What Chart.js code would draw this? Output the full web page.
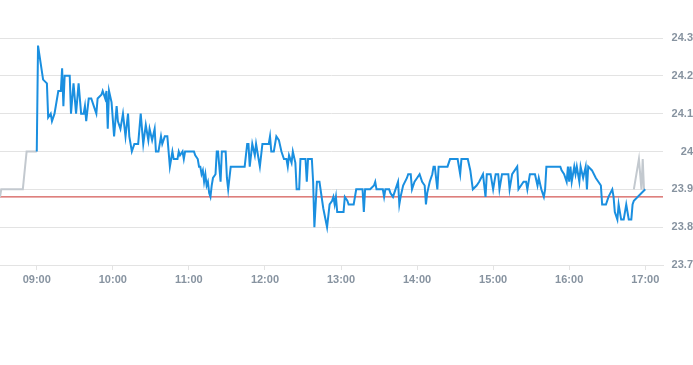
<!DOCTYPE html>
<html>
<head>
<meta charset="utf-8">
<script src="https://cdn.jsdelivr.net/npm/chart.js@4/dist/chart.umd.min.js"></script>
<style>
  body { margin: 0; background: #fff; }
  #wrap { width: 693px; height: 365px; position: relative; }
</style>
</head>
<body>
<div id="wrap"><canvas id="priceChart"></canvas></div>
<script>
// intraday prices, one line per hour
var blueTimes = [
  '09:00','09:01','09:05','09:08','09:09','09:11','09:12','09:14','09:17','09:19','09:20','09:21','09:22','09:26','09:27','09:29','09:31','09:33','09:35','09:37','09:38','09:39','09:41','09:43','09:45','09:47','09:48','09:51','09:52','09:54','09:55','09:56','09:57','09:59',
  '10:01','10:03','10:04','10:06','10:08','10:10','10:12','10:13','10:15','10:17','10:20','10:22','10:24','10:26','10:28','10:29','10:31','10:33','10:34','10:36','10:37','10:38','10:39','10:41','10:43','10:44','10:45','10:47','10:48','10:51','10:52','10:53','10:55','10:56','10:57',
  '11:04','11:05','11:07','11:08','11:09','11:10','11:11','11:12','11:13','11:14','11:15','11:16','11:17','11:18','11:19','11:21','11:22','11:23','11:24','11:25','11:26','11:29','11:30','11:31','11:33','11:44','11:46','11:47','11:48','11:50','11:52','11:53','11:54','11:56','11:58',
  '12:03','12:04','12:05','12:07','12:09','12:11','12:13','12:15','12:17','12:18','12:19','12:21','12:22','12:24','12:25','12:27','12:28','12:32','12:33','12:34','12:37','12:38','12:39','12:41','12:43','12:46','12:49','12:51','12:53','12:54','12:55','12:56','12:57',
  '13:02','13:03','13:05','13:06','13:10','13:12','13:17','13:18','13:19','13:23','13:26','13:27','13:28','13:33','13:34','13:35','13:38','13:39','13:41','13:43','13:45','13:46','13:47','13:49','13:52','13:53','13:55','13:56','13:58',
  '14:00','14:02','14:04','14:06','14:07','14:08','14:10','14:12','14:13','14:14','14:16','14:17','14:24','14:26','14:32','14:34','14:35','14:40','14:42','14:44','14:47','14:49','14:52','14:54','14:55','14:58',
  '15:00','15:02','15:04','15:05','15:07','15:12','15:13','15:15','15:19','15:20','15:22','15:24','15:26','15:27','15:29','15:33','15:35','15:36','15:38','15:40','15:41','15:42','15:53','15:54','15:56','15:58','15:59',
  '16:00','16:01','16:02','16:04','16:05','16:06','16:08','16:09','16:11','16:13','16:14','16:15','16:18','16:21','16:23','16:25','16:26','16:29','16:31','16:34','16:35','16:36','16:38','16:39','16:41','16:43','16:45','16:46','16:47','16:49','16:50','16:51',
  '17:00'
];
var bluePrices = [
  24.00,24.28,24.19,24.18,24.09,24.10,24.08,24.10,24.16,24.16,24.22,24.12,24.20,24.20,24.10,24.18,24.10,24.18,24.10,24.10,24.12,24.08,24.14,24.14,24.12,24.10,24.14,24.15,24.16,24.14,24.16,24.06,24.16,24.13,
  24.04,24.12,24.08,24.06,24.10,24.04,24.10,24.04,24.00,24.02,24.02,24.10,24.02,24.07,24.03,24.06,24.03,24.06,24.00,24.00,24.02,24.04,24.02,24.04,24.04,24.00,23.96,24.00,23.98,23.98,24.00,23.99,24.00,23.98,24.00,
  24.00,23.99,23.98,23.96,23.96,23.94,23.95,23.92,23.94,23.91,23.92,23.89,23.88,23.91,23.93,23.94,24.00,24.00,23.96,23.92,24.00,24.00,23.93,23.90,23.96,23.96,24.02,24.02,23.96,24.02,23.99,24.02,24.00,23.96,24.02,
  24.02,24.04,24.00,24.00,24.04,24.03,24.00,23.98,23.98,23.96,23.99,23.97,24.00,23.97,23.90,23.90,23.98,23.98,23.92,23.98,23.98,23.92,23.80,23.92,23.92,23.85,23.80,23.86,23.87,23.88,23.86,23.88,23.84,
  23.84,23.88,23.87,23.86,23.86,23.90,23.90,23.84,23.90,23.90,23.91,23.92,23.90,23.90,23.88,23.90,23.90,23.89,23.88,23.90,23.92,23.86,23.88,23.91,23.93,23.94,23.94,23.90,23.92,
  23.93,23.94,23.92,23.91,23.86,23.89,23.92,23.94,23.96,23.96,23.90,23.96,23.96,23.98,23.98,23.94,23.98,23.98,23.95,23.90,23.91,23.92,23.94,23.88,23.94,23.94,
  23.90,23.94,23.94,23.90,23.94,23.94,23.90,23.94,23.96,23.90,23.91,23.92,23.92,23.90,23.94,23.94,23.91,23.93,23.90,23.88,23.90,23.96,23.96,23.95,23.94,23.92,23.96,
  23.92,23.96,23.92,23.96,23.94,23.96,23.92,23.96,23.93,23.96,23.90,23.96,23.95,23.93,23.92,23.91,23.86,23.86,23.88,23.90,23.88,23.84,23.82,23.86,23.82,23.82,23.86,23.84,23.82,23.82,23.86,23.87,
  23.90
];
// pre-open and closing auction (grey); null splits the two pieces
var greyTimes = ['08:31','08:32','08:49','08:52','09:00','12:00','16:51','16:55','16:57','16:58','16:59'];
var greyPrices = [23.88, 23.90, 23.90, 24.00, 24.00, null, 23.90, 23.98, 23.90, 23.98, 23.90];
var prevClose = 23.88;
var hourTicks = ['09:00','10:00','11:00','12:00','13:00','14:00','15:00','16:00','17:00'];

function toMin(t) {
    var p = t.split(':');
    return parseInt(p[0], 10) * 60 + parseInt(p[1], 10);
}
function fmtMin(m) {
    var h = Math.floor(m / 60), mm = m % 60;
    return (h < 10 ? '0' : '') + h + ':' + (mm < 10 ? '0' : '') + mm;
}

var xMin = 511, xMax = 1034;
var blueData = blueTimes.map(function (t, i) { return { x: toMin(t), y: bluePrices[i] }; });
var greyData = greyTimes.map(function (t, i) { return { x: toMin(t), y: greyPrices[i] }; });
var refData = [{ x: xMin, y: prevClose }, { x: xMax, y: prevClose }];

var labelColor = '#8793a0';
var gridColor = '#e3e3e3';

new Chart(document.getElementById('priceChart'), {
    type: 'line',
    data: {
        datasets: [
            { data: blueData, borderColor: '#1a8fe0', borderWidth: 2, pointRadius: 0, tension: 0 },
            { data: greyData, borderColor: '#c3c9cf', borderWidth: 2, pointRadius: 0, tension: 0, spanGaps: false },
            { data: refData, borderColor: '#c9302c', borderWidth: 1, pointRadius: 0 }
        ]
    },
    options: {
        responsive: true,
        maintainAspectRatio: false,
        animation: false,
        layout: { padding: { left: 0, right: 0, top: 38, bottom: 70 } },
        plugins: {
            legend: { display: false },
            tooltip: { enabled: false }
        },
        scales: {
            x: {
                type: 'linear',
                min: xMin,
                max: xMax,
                afterBuildTicks: function (axis) {
                    axis.ticks = hourTicks.map(function (t) { return { value: toMin(t) }; });
                },
                afterFit: function (axis) { axis.height = 30; },
                grid: { drawOnChartArea: false, drawTicks: true, tickLength: 5, color: gridColor },
                border: { display: true, color: gridColor },
                ticks: {
                    padding: 3,
                    maxRotation: 0,
                    color: labelColor,
                    font: { family: 'Liberation Sans, Arial, sans-serif', size: 11, weight: 'bold' },
                    callback: function (v) { return fmtMin(v); }
                }
            },
            y: {
                position: 'right',
                min: 23.7,
                max: 24.3,
                afterFit: function (axis) { axis.width = 30; },
                grid: { color: gridColor, drawTicks: false },
                border: { display: false },
                ticks: {
                    stepSize: 0.1,
                    padding: 8,
                    crossAlign: 'far',
                    color: labelColor,
                    font: { family: 'Liberation Sans, Arial, sans-serif', size: 11, weight: 'bold' },
                    callback: function (v) { return String(Math.round(v * 10) / 10); }
                }
            }
        }
    }
});
</script>
</body>
</html>
